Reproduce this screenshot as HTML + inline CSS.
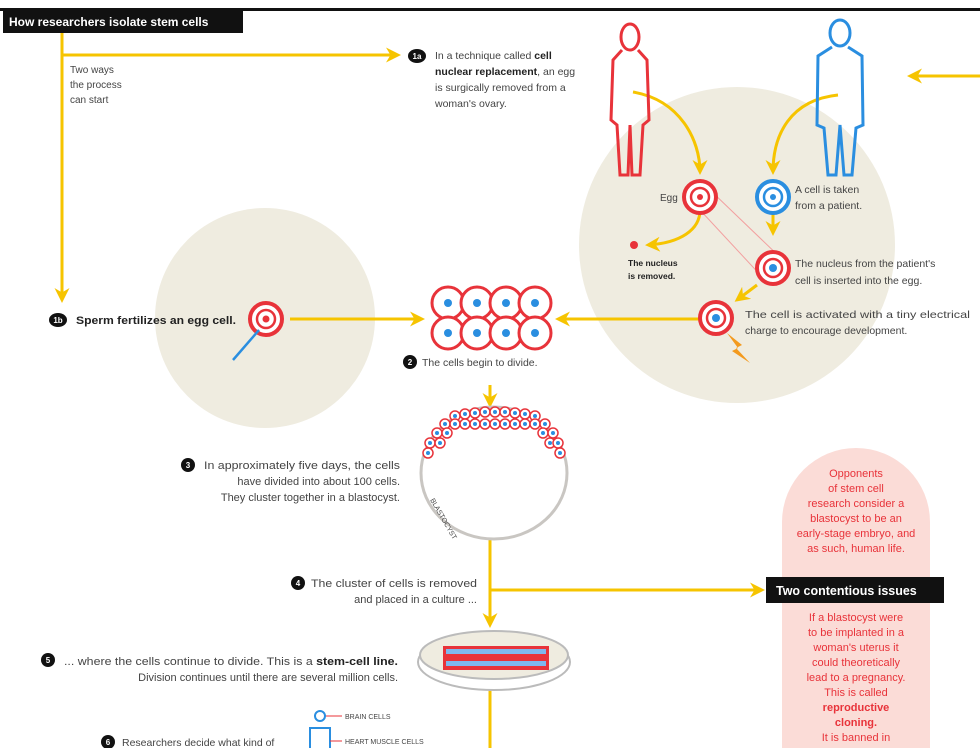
<!DOCTYPE html>
<html><head><meta charset="utf-8"><style>
html,body{margin:0;padding:0;background:#fff;}
svg{display:block;}
text{font-family:"Liberation Sans Narrow","Liberation Sans",sans-serif;font-size:11px;fill:#444;}
.b{font-weight:bold;fill:#222;}
.r{fill:#e8333a;font-size:11px;text-anchor:middle;}
.w{fill:#fff;font-weight:bold;}
.n{fill:#fff;font-size:8px;font-weight:bold;text-anchor:middle;}
</style></head><body>
<svg width="980" height="748" viewBox="0 0 980 748" xmlns="http://www.w3.org/2000/svg">
<defs>
<marker id="a" viewBox="0 0 10 10" refX="8" refY="5" markerWidth="5" markerHeight="5" orient="auto"><path d="M0,0 L10,5 L0,10 L3,5z" fill="#f6c400"/></marker>
<g id="egg"><circle r="16" fill="#fff" stroke="#e8333a" stroke-width="4"/><circle r="9" fill="none" stroke="#e8333a" stroke-width="2.5"/></g>
<g id="bc"><circle r="5" fill="#fff" stroke="#e8333a" stroke-width="1.5"/><circle r="2" fill="#2a8ee0"/></g>
</defs>
<circle cx="265" cy="318" r="110" fill="#efece0"/>
<circle cx="737" cy="245" r="158" fill="#efece0"/>
<path d="M782,748 L782,522 A74,74 0 0 1 930,522 L930,748 Z" fill="#fbdcd7"/>
<rect x="0" y="8" width="980" height="3" fill="#111"/>
<rect x="3" y="10" width="240" height="23" fill="#111"/>
<text x="9" y="26" class="w" style="font-size:12px">How researchers isolate stem cells</text>
<g stroke="#f6c400" stroke-width="3" fill="none">
<path d="M62,33 L62,300" marker-end="url(#a)"/>
<path d="M62,55 L398,55" marker-end="url(#a)"/>
<path d="M290,319 L422,319" marker-end="url(#a)"/>
<path d="M700,319 L558,319" marker-end="url(#a)"/>
<path d="M980,76 L910,76" marker-end="url(#a)"/>
<path d="M633,92 C680,100 700,140 700,172" marker-end="url(#a)"/>
<path d="M838,95 C790,100 773,135 773,172" marker-end="url(#a)"/>
<path d="M700,210 C700,230 680,243 648,245" marker-end="url(#a)"/>
<path d="M773,212 L773,233" marker-end="url(#a)"/>
<path d="M757,285 L737,300" marker-end="url(#a)"/>
<path d="M490,385 L490,405" marker-end="url(#a)"/>
<path d="M490,510 L490,625" marker-end="url(#a)"/>
<path d="M490,590 L762,590" marker-end="url(#a)"/>
<path d="M490,683 L490,748"/>
</g>
<text x="70" y="73" style="font-size:10px">Two ways</text><text x="70" y="88" style="font-size:10px">the process</text><text x="70" y="103" style="font-size:10px">can start</text>
<ellipse cx="417" cy="56" rx="9" ry="7" fill="#111"/><text x="417" y="59" class="n">1a</text>
<text x="435" y="59" style="font-size:10.5px">In a technique called <tspan class="b">cell</tspan></text>
<text x="435" y="75" style="font-size:10.5px"><tspan class="b">nuclear replacement</tspan>, an egg</text>
<text x="435" y="91" style="font-size:10.5px">is surgically removed from a</text>
<text x="435" y="107" style="font-size:10.5px">woman's ovary.</text>
<ellipse cx="58" cy="320" rx="9" ry="7" fill="#111"/><text x="58" y="323" class="n">1b</text>
<text x="76" y="324" class="b" textLength="160" lengthAdjust="spacingAndGlyphs">Sperm fertilizes an egg cell.</text>
<use href="#egg" x="266" y="319"/><circle cx="266" cy="319" r="3.5" fill="#e8333a"/>
<path d="M233,360 L259,330" stroke="#2a8ee0" stroke-width="2.5"/>
<g fill="#fff" stroke="#e8333a" stroke-width="3">
<circle cx="448" cy="303" r="16"/><circle cx="477" cy="303" r="16"/><circle cx="506" cy="303" r="16"/><circle cx="535" cy="303" r="16"/>
<circle cx="448" cy="333" r="16"/><circle cx="477" cy="333" r="16"/><circle cx="506" cy="333" r="16"/><circle cx="535" cy="333" r="16"/>
</g>
<g fill="#2a8ee0"><circle cx="448" cy="303" r="4"/><circle cx="477" cy="303" r="4"/><circle cx="506" cy="303" r="4"/><circle cx="535" cy="303" r="4"/><circle cx="448" cy="333" r="4"/><circle cx="477" cy="333" r="4"/><circle cx="506" cy="333" r="4"/><circle cx="535" cy="333" r="4"/></g>
<circle cx="410" cy="362" r="7" fill="#111"/><text x="410" y="365" class="n">2</text>
<text x="422" y="366" style="font-size:10.5px">The cells begin to divide.</text>
<g fill="none" stroke="#e8333a" stroke-width="3">
<ellipse cx="630" cy="37" rx="9" ry="13"/>
<path d="M622,50 L613,60 L611,120 L617,125 L620,175 L628,175 L630,125 L632,175 L640,175 L643,125 L649,120 L647,60 L638,50"/>
</g>
<g fill="none" stroke="#2a8ee0" stroke-width="3">
<ellipse cx="840" cy="33" rx="10" ry="13"/>
<path d="M832,47 L818,56 L817,125 L824,128 L828,175 L836,175 L840,125 L844,175 L852,175 L856,128 L863,125 L862,56 L848,47"/>
</g>
<path d="M710,190 L785,262 M700,210 L765,280" stroke="#f2a0a0" stroke-width="1"/>
<use href="#egg" x="700" y="197"/><circle cx="700" cy="197" r="3" fill="#e8333a"/>
<circle cx="773" cy="197" r="16" fill="#fff" stroke="#2a8ee0" stroke-width="4"/><circle cx="773" cy="197" r="9" fill="none" stroke="#2a8ee0" stroke-width="2.5"/><circle cx="773" cy="197" r="3" fill="#2a8ee0"/>
<text x="660" y="201" style="font-size:10px">Egg</text>
<text x="795" y="193" style="font-size:10.5px">A cell is taken</text><text x="795" y="209" style="font-size:10.5px">from a patient.</text>
<circle cx="634" cy="245" r="4" fill="#e8333a"/>
<text x="628" y="266" class="b" style="font-size:8.5px">The nucleus</text><text x="628" y="279" class="b" style="font-size:8.5px">is removed.</text>
<use href="#egg" x="773" y="268"/><circle cx="773" cy="268" r="4" fill="#2a8ee0"/>
<text x="795" y="267" style="font-size:10.5px">The nucleus from the patient's</text><text x="795" y="284" style="font-size:10.5px">cell is inserted into the egg.</text>
<use href="#egg" x="716" y="318"/><circle cx="716" cy="318" r="4" fill="#2a8ee0"/>
<text x="745" y="318" style="font-size:10.5px" textLength="225" lengthAdjust="spacingAndGlyphs">The cell is activated with a tiny electrical</text><text x="745" y="334" style="font-size:10.5px">charge to encourage development.</text>
<path d="M727,333 L742,345 L736,348 L750,363 L732,351 L738,348 Z" fill="#f39a1e"/>
<ellipse cx="494" cy="473" rx="73" ry="66" fill="#fff" stroke="#c9c6c2" stroke-width="3"/>
<g>
<use href="#bc" x="455" y="416"/><use href="#bc" x="465" y="414"/><use href="#bc" x="475" y="413"/><use href="#bc" x="485" y="412"/><use href="#bc" x="495" y="412"/><use href="#bc" x="505" y="412"/><use href="#bc" x="515" y="413"/><use href="#bc" x="525" y="414"/><use href="#bc" x="535" y="416"/>
<use href="#bc" x="445" y="424"/><use href="#bc" x="455" y="424"/><use href="#bc" x="465" y="424"/><use href="#bc" x="475" y="424"/><use href="#bc" x="485" y="424"/><use href="#bc" x="495" y="424"/><use href="#bc" x="505" y="424"/><use href="#bc" x="515" y="424"/><use href="#bc" x="525" y="424"/><use href="#bc" x="535" y="424"/><use href="#bc" x="545" y="424"/>
<use href="#bc" x="437" y="433"/><use href="#bc" x="447" y="433"/><use href="#bc" x="543" y="433"/><use href="#bc" x="553" y="433"/>
<use href="#bc" x="430" y="443"/><use href="#bc" x="440" y="443"/><use href="#bc" x="550" y="443"/><use href="#bc" x="558" y="443"/>
<use href="#bc" x="428" y="453"/><use href="#bc" x="560" y="453"/>
</g>
<text x="430" y="500" transform="rotate(60 430 500)" style="font-size:7px">BLASTOCYST</text>
<circle cx="188" cy="465" r="7" fill="#111"/><text x="188" y="468" class="n">3</text>
<g text-anchor="end" style="font-size:10.5px">
<text x="400" y="469" textLength="196" lengthAdjust="spacingAndGlyphs">In approximately five days, the cells</text><text x="400" y="485">have divided into about 100 cells.</text><text x="400" y="501">They cluster together in a blastocyst.</text>
<text x="477" y="587" textLength="166" lengthAdjust="spacingAndGlyphs">The cluster of cells is removed</text><text x="477" y="603">and placed in a culture ...</text>
<text x="398" y="665" textLength="334" lengthAdjust="spacingAndGlyphs">... where the cells continue to divide. This is a <tspan class="b">stem-cell line.</tspan></text>
<text x="398" y="681">Division continues until there are several million cells.</text></g>
<circle cx="298" cy="583" r="7" fill="#111"/><text x="298" y="586" class="n">4</text>
<circle cx="48" cy="660" r="7" fill="#111"/><text x="48" y="663" class="n">5</text>
<ellipse cx="494" cy="662" rx="76" ry="28" fill="#fff" stroke="#bbb" stroke-width="2"/>
<ellipse cx="494" cy="655" rx="74" ry="24" fill="#efece0" stroke="#bbb" stroke-width="2"/>
<rect x="443" y="646" width="106" height="24" fill="#e8333a"/>
<g fill="#7fb8ee"><rect x="446" y="649" width="100" height="5"/><rect x="446" y="661" width="100" height="5"/></g>
<rect x="766" y="577" width="178" height="26" fill="#111"/>
<text x="776" y="595" class="w" style="font-size:12.5px">Two contentious issues</text>
<g style="font-size:10.5px">
<text class="r" x="856" y="477">Opponents</text><text class="r" x="856" y="492">of stem cell</text><text class="r" x="856" y="507">research consider a</text><text class="r" x="856" y="522">blastocyst to be an</text><text class="r" x="856" y="537">early-stage embryo, and</text><text class="r" x="856" y="552">as such, human life.</text>
<text class="r" x="856" y="621">If a blastocyst were</text><text class="r" x="856" y="636">to be implanted in a</text><text class="r" x="856" y="651">woman's uterus it</text><text class="r" x="856" y="666">could theoretically</text><text class="r" x="856" y="681">lead to a pregnancy.</text><text class="r" x="856" y="696">This is called</text><text class="r" x="856" y="711" font-weight="bold">reproductive</text><text class="r" x="856" y="726" font-weight="bold">cloning.</text><text class="r" x="856" y="741">It is banned in</text>
</g>
<circle cx="108" cy="742" r="7" fill="#111"/><text x="108" y="745" class="n">6</text>
<text x="122" y="746" style="font-size:10.5px">Researchers decide what kind of</text>
<g fill="none" stroke="#2a8ee0" stroke-width="2"><circle cx="320" cy="716" r="5"/><path d="M310,748 L310,728 L330,728 L330,748"/></g>
<path d="M326,716 L342,716 M330,741 L342,741" stroke="#e8333a" stroke-width="1"/>
<text x="345" y="719" style="font-size:7px">BRAIN CELLS</text><text x="345" y="744" style="font-size:7px">HEART MUSCLE CELLS</text>
</svg>
</body></html>
